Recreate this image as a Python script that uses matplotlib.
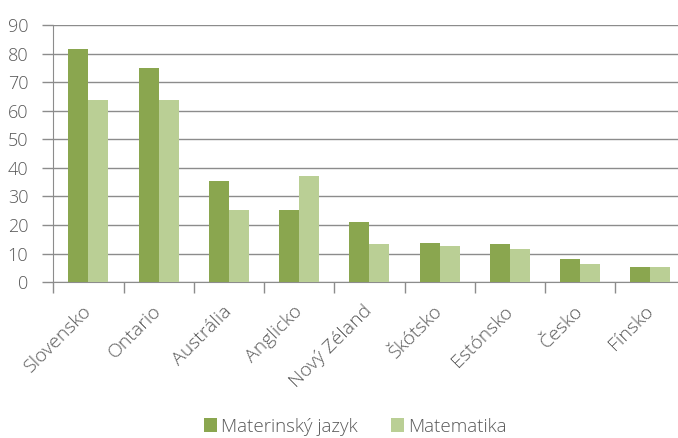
import matplotlib
matplotlib.use("Agg")
import matplotlib.pyplot as plt
import numpy as np

countries = ["Slovensko", "Ontario", "Austrália", "Anglicko", "Nový Zéland",
             "Škótsko", "Estónsko", "Česko", "Fínsko"]
materinsky = [81.5, 74.8, 35.3, 25.3, 21.0, 13.8, 13.4, 8.2, 5.3]
matematika = [63.6, 63.6, 25.1, 37.0, 13.4, 12.8, 11.6, 6.2, 5.3]
series_names = ["Materinský jazyk", "Matematika"]
yticks = [0, 10, 20, 30, 40, 50, 60, 70, 80, 90]

DARK = "#8aa64f"
LIGHT = "#bacf95"
GRID = "#8c8c8c"
TEXT = "#595959"

plt.rcParams["font.family"] = ["Open Sans", "DejaVu Sans"]
plt.rcParams["font.weight"] = "light"

fig = plt.figure(figsize=(6.78, 4.38), dpi=100)
ax = fig.add_axes([0.0786, 0.356, 0.9325, 0.587])

x = np.arange(len(countries))
w = 0.285
ax.bar(x - w / 2, materinsky, w, color=DARK, label=series_names[0], zorder=3)
ax.bar(x + w / 2, matematika, w, color=LIGHT, label=series_names[1], zorder=3)

ax.set_xlim(-0.5, len(countries) - 0.5)
ax.set_ylim(0, 90)
ax.set_yticks(yticks)
ax.yaxis.grid(True, color=GRID, lw=1)
ax.set_axisbelow(True)

for s in ["top", "right"]:
    ax.spines[s].set_visible(False)
for s in ["left", "bottom"]:
    ax.spines[s].set_color(GRID)

# category ticks sit between the groups
ax.set_xticks(np.arange(len(countries) + 1) - 0.5)
ax.set_xticklabels([])
ax.tick_params(axis="x", length=8, color=GRID, width=1)
ax.tick_params(axis="y", length=8, color=GRID, width=1, pad=10,
               labelsize=13, labelcolor=TEXT)

for i, name in enumerate(countries):
    ax.annotate(name, xy=(i, 0), xycoords=("data", "axes fraction"),
                xytext=(0, -19), textcoords="offset points",
                rotation=45, rotation_mode="anchor", ha="right", va="center",
                fontsize=14, color=TEXT)

ax.legend(loc="center", bbox_to_anchor=(0.524, 0.026), bbox_transform=fig.transFigure,
          ncol=2, frameon=False, fontsize=13.5, handlelength=0.7, handleheight=0.7,
          handletextpad=0.2, columnspacing=1.8, labelcolor=TEXT)

fig.savefig("out.png", dpi=100)
